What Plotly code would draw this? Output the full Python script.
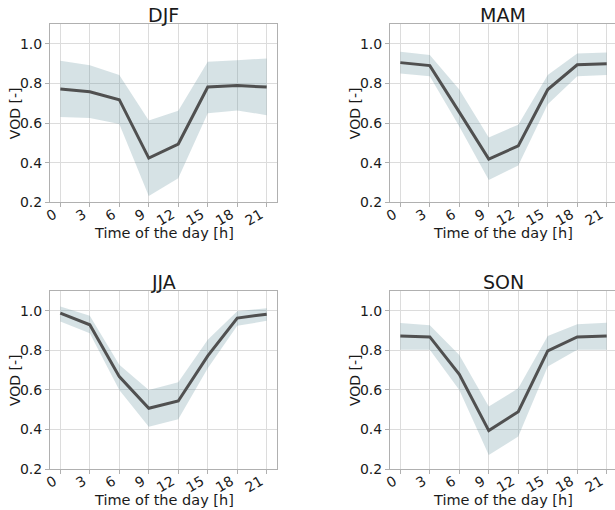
import plotly.graph_objects as go

hours = [0, 3, 6, 9, 12, 15, 18, 21]
seasons = ["DJF", "MAM", "JJA", "SON"]

djf_mean = [0.772, 0.758, 0.718, 0.423, 0.494, 0.782, 0.789, 0.782]
djf_upper = [0.914, 0.892, 0.843, 0.613, 0.662, 0.910, 0.917, 0.926]
djf_lower = [0.630, 0.625, 0.595, 0.232, 0.322, 0.649, 0.664, 0.640]

mam_mean = [0.905, 0.890, 0.655, 0.418, 0.485, 0.769, 0.894, 0.899]
mam_upper = [0.960, 0.943, 0.769, 0.527, 0.592, 0.843, 0.951, 0.956]
mam_lower = [0.850, 0.836, 0.583, 0.313, 0.386, 0.695, 0.836, 0.843]

jja_mean = [0.988, 0.929, 0.667, 0.507, 0.544, 0.772, 0.963, 0.983]
jja_upper = [1.022, 0.975, 0.727, 0.600, 0.639, 0.853, 0.997, 1.013]
jja_lower = [0.946, 0.887, 0.600, 0.414, 0.451, 0.710, 0.924, 0.949]

son_mean = [0.873, 0.868, 0.679, 0.394, 0.490, 0.797, 0.868, 0.873]
son_upper = [0.938, 0.927, 0.777, 0.516, 0.608, 0.873, 0.932, 0.939]
son_lower = [0.803, 0.803, 0.600, 0.271, 0.364, 0.718, 0.803, 0.803]

ytick_vals = [0.2, 0.4, 0.6, 0.8, 1.0]

data = [
    (djf_mean, djf_lower, djf_upper),
    (mam_mean, mam_lower, mam_upper),
    (jja_mean, jja_lower, jja_upper),
    (son_mean, son_lower, son_upper),
]

W, H = 615, 510
# pixel boxes: (left, right, top, bottom)
boxes = [
    (50, 277, 24, 202.3),
    (390, 615, 24, 202.3),
    (50, 277, 291, 469),
    (390, 615, 291, 469),
]
px_per_hour = (266.7 - 60.3) / 21.0

FILL = "rgba(90,140,150,0.25)"
LINE = "#505050"
GRID = "#dcdcdc"
SPINE = "#b0b0b0"
FONT = "DejaVu Sans"
TXT = "#1a1a1a"

fig = go.Figure()
annotations = []
layout_axes = {}

for i, (season, (m, lo, up)) in enumerate(zip(seasons, data)):
    n = i + 1
    xa = "x" if n == 1 else f"x{n}"
    ya = "y" if n == 1 else f"y{n}"
    fig.add_trace(go.Scatter(x=hours, y=lo, mode="lines", line=dict(width=0),
                             hoverinfo="skip", showlegend=False, xaxis=xa, yaxis=ya))
    fig.add_trace(go.Scatter(x=hours, y=up, mode="lines", line=dict(width=0),
                             fill="tonexty", fillcolor=FILL,
                             hoverinfo="skip", showlegend=False, xaxis=xa, yaxis=ya))
    fig.add_trace(go.Scatter(x=hours, y=m, mode="lines", line=dict(color=LINE, width=3),
                             showlegend=False, xaxis=xa, yaxis=ya))

    l, r, t, b = boxes[i]
    xdom = [l / W, min(r / W, 1.0)]
    ydom = [1 - b / H, 1 - t / H]
    x0 = -1.05
    x1 = x0 + (r - l) / px_per_hour
    xkey = "xaxis" if n == 1 else f"xaxis{n}"
    ykey = "yaxis" if n == 1 else f"yaxis{n}"
    layout_axes[xkey] = dict(
        domain=xdom, range=[x0, x1], anchor=ya, automargin=False,
        tickvals=hours, ticktext=[str(h) for h in hours], tickangle=-30,
        ticklabelshift=-6, ticklabelstandoff=-6,
        showgrid=True, gridcolor=GRID, gridwidth=1, zeroline=False,
        showline=True, linecolor=SPINE, linewidth=1, mirror=True,
        ticks="outside", ticklen=4, tickcolor=SPINE,
        tickfont=dict(family=FONT, size=14, color=TXT),
    )
    layout_axes[ykey] = dict(
        domain=ydom, range=[0.2, 1.1], anchor=xa, automargin=False,
        tickvals=ytick_vals, tickformat=".1f",
        showgrid=True, gridcolor=GRID, gridwidth=1, zeroline=False,
        showline=True, linecolor=SPINE, linewidth=1, mirror=True,
        ticks="outside", ticklen=4, tickcolor=SPINE,
        tickfont=dict(family=FONT, size=14, color=TXT),
    )
    cx = ((l + r) / 2) / W
    if i % 2 == 1:
        cx = ((l + 616.6) / 2) / W
    annotations.append(dict(text=season, x=cx, y=1 - (t - 9) / H, xref="paper", yref="paper",
                            xanchor="center", yanchor="middle", showarrow=False,
                            font=dict(family=FONT, size=19, color=TXT)))
    annotations.append(dict(text="Time of the day [h]", x=cx, y=1 - (b + 31) / H,
                            xref="paper", yref="paper", xanchor="center", yanchor="middle",
                            showarrow=False, font=dict(family=FONT, size=14.5, color=TXT)))
    annotations.append(dict(text="VOD [-]", x=(l - 35) / W, y=1 - ((t + b) / 2) / H,
                            xref="paper", yref="paper", xanchor="center", yanchor="middle",
                            textangle=-90, showarrow=False,
                            font=dict(family=FONT, size=14, color=TXT)))

fig.update_layout(
    width=W, height=H, margin=dict(l=0, r=0, t=0, b=0, autoexpand=False),
    paper_bgcolor="white", plot_bgcolor="white", hovermode=False,
    annotations=annotations, **layout_axes,
)

fig.write_html("out.html", config={"displayModeBar": False},
               post_script="document.body.style.margin='0px';")
